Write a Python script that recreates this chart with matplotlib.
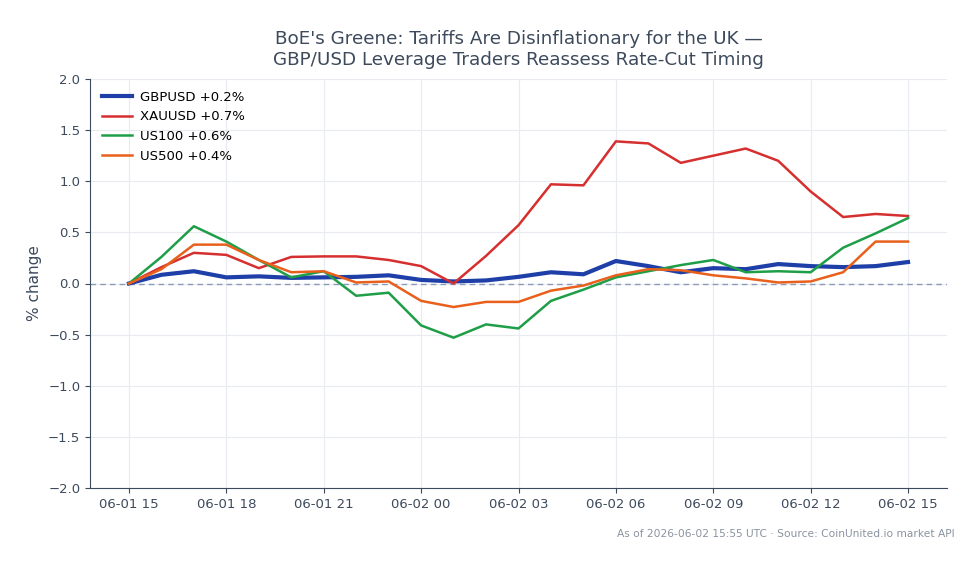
import numpy as np
import pandas as pd
from matplotlib import pyplot as plt
import matplotlib.dates as mdates

# hourly timestamps, 06-01 15:00 -> 06-02 15:00 UTC
times = pd.date_range("2026-06-01 15:00", "2026-06-02 15:00", freq="h")

gbpusd = [0.0, 0.085, 0.12, 0.06, 0.07, 0.055, 0.06, 0.065, 0.08, 0.035, 0.02, 0.03, 0.065,
          0.11, 0.09, 0.22, 0.17, 0.11, 0.15, 0.14, 0.19, 0.17, 0.16, 0.17, 0.21]
xauusd = [0.0, 0.16, 0.30, 0.28, 0.15, 0.26, 0.265, 0.265, 0.23, 0.17, 0.0, 0.27, 0.57,
          0.97, 0.96, 1.39, 1.37, 1.18, 1.25, 1.32, 1.20, 0.90, 0.65, 0.68, 0.66]
us100 = [0.0, 0.26, 0.56, 0.41, 0.23, 0.06, 0.12, -0.12, -0.09, -0.41, -0.53, -0.40, -0.44,
         -0.17, -0.06, 0.06, 0.12, 0.18, 0.23, 0.11, 0.12, 0.11, 0.35, 0.49, 0.64]
us500 = [0.0, 0.14, 0.38, 0.38, 0.23, 0.11, 0.12, 0.01, 0.02, -0.17, -0.23, -0.18, -0.18,
         -0.07, -0.02, 0.08, 0.14, 0.13, 0.08, 0.05, 0.01, 0.02, 0.11, 0.41, 0.41]

names = ["GBPUSD", "XAUUSD", "US100", "US500"]
colors = ["#1f3fa8", "#d62f2f", "#1f9e48", "#e8601c"]
widths = [3.0, 1.8, 1.8, 1.8]

text_col = "#3d4a5c"

fig = plt.figure(figsize=(9.79, 5.64), dpi=100)
ax = fig.add_axes([90 / 979, 1 - 488 / 564, (947 - 90) / 979, (488 - 79) / 564])

for name, vals, c, lw in zip(names, [gbpusd, xauusd, us100, us500], colors, widths):
    ax.plot(times, vals, color=c, lw=lw, label=f"{name} {vals[-1]:+.1f}%", zorder=3)

ax.axhline(0, color="#8a9bb8", lw=1, ls=(0, (4, 3)), zorder=2)

ax.set_ylim(-2.0, 2.0)
ax.set_yticks(np.arange(-2.0, 2.01, 0.5))
ax.set_yticklabels([f"{v:.1f}".replace("-", "\u2212") for v in np.arange(-2.0, 2.01, 0.5)])
ax.xaxis.set_major_locator(mdates.HourLocator(byhour=range(0, 24, 3)))
ax.xaxis.set_major_formatter(mdates.DateFormatter("%m-%d %H"))

ax.grid(True, color="#e8ebf0", lw=0.8)
ax.set_axisbelow(True)
for s in ["top", "right"]:
    ax.spines[s].set_visible(False)
for s in ["left", "bottom"]:
    ax.spines[s].set_color(text_col)
ax.tick_params(colors=text_col, labelsize=9.5)
ax.set_ylabel("% change", color=text_col, fontsize=11)

ax.set_title("BoE's Greene: Tariffs Are Disinflationary for the UK \u2014\nGBP/USD Leverage Traders Reassess Rate-Cut Timing",
             color=text_col, fontsize=13.2, pad=10)

leg = ax.legend(loc="upper left", frameon=False, fontsize=9.5, handlelength=2.3, handletextpad=0.6)

fig.text(955 / 979, 1 - 534 / 564, "As of 2026-06-02 15:55 UTC \u00b7 Source: CoinUnited.io market API",
         ha="right", va="center", fontsize=7.7, color="#8a93a0")

fig.savefig("out.png", dpi=100)
